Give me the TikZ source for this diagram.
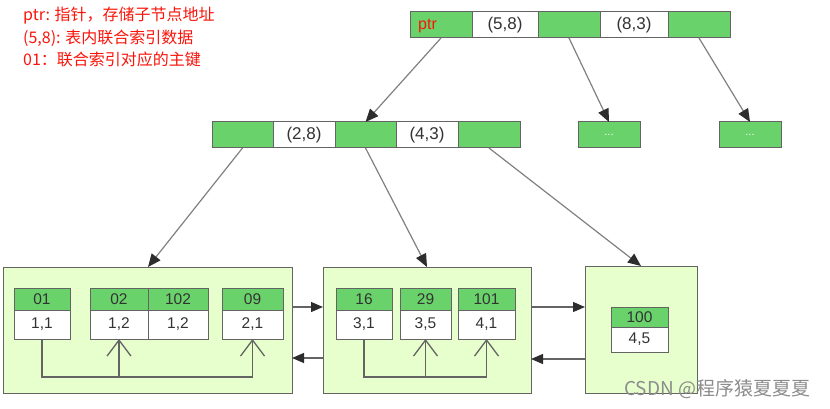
\documentclass[tikz,border=0pt]{standalone}
\usepackage{fontspec}
\setmainfont{Liberation Sans}
\newfontfamily\cjk{Noto Sans CJK SC}
\usetikzlibrary{arrows.meta,calc}
\definecolor{gfill}{RGB}{106,210,106}
\definecolor{lfill}{RGB}{230,255,204}
\definecolor{bord}{RGB}{100,100,100}
\definecolor{aline}{RGB}{128,128,128}
\definecolor{ahead}{RGB}{45,45,45}
\definecolor{txt}{RGB}{51,51,51}
\definecolor{legred}{RGB}{250,20,10}
\tikzset{
  cellbase/.style={draw=bord, line width=1pt, inner sep=0pt, outer sep=0pt, anchor=north west, text=txt, font=\fontsize{15.5}{17}\selectfont},
  gcell/.style={cellbase, fill=gfill},
  wcell/.style={cellbase, fill=white},
  topcell/.style={font=\fontsize{17}{19}\selectfont},
  leafbox/.style={draw=bord, line width=1pt, fill=lfill, inner sep=0pt, outer sep=0pt, anchor=north west},
  treearrow/.style={draw=aline, line width=1.2pt, -{Triangle[length=13pt,width=11pt,fill=ahead,color=ahead]}},
  linkarrow/.style={draw=bord, line width=1.2pt, -{Triangle[length=12pt,width=10pt,fill=ahead,color=ahead]}},
  inline/.style={draw=bord, line width=1.3pt},
  barb/.style={draw=bord, line width=1.3pt, -{Straight Barb[length=16pt,width=24pt,line width=1.3pt]}},
  legend/.style={text=legred, anchor=west, inner sep=0pt, font=\cjk\fontsize{16}{18}\selectfont},
}
\begin{document}
\begin{tikzpicture}[x=1pt,y=-1pt]
\useasboundingbox (0,0) rectangle (830,409);

% legend
\node[legend] (leg1) at (23,16) {ptr: 指针，存储子节点地址};
\node[legend] (leg2) at (23,38) {(5,8): 表内联合索引数据};
\node[legend] (leg3) at (23,59) {01：联合索引对应的主键};

% top node
\node[gcell, minimum width=62, minimum height=26] (t1) at (410,12) {};
\node[wcell, topcell, minimum width=66, minimum height=26] (t2) at (472,12) {(5,8)};
\node[gcell, minimum width=62, minimum height=26] (t3) at (538,12) {};
\node[wcell, topcell, minimum width=68, minimum height=26] (t4) at (600,12) {(8,3)};
\node[gcell, minimum width=62, minimum height=26] (t5) at (668,12) {};
\node[text=legred, anchor=west, inner sep=0pt, font=\fontsize{16}{18}\selectfont] (ptr) at (418,25.5) {ptr};

% second level
\node[gcell, minimum width=61, minimum height=26] (m1) at (212,122) {};
\node[wcell, topcell, minimum width=62, minimum height=26] (m2) at (273,122) {(2,8)};
\node[gcell, minimum width=61, minimum height=26] (m3) at (335,122) {};
\node[wcell, topcell, minimum width=62, minimum height=26] (m4) at (396,122) {(4,3)};
\node[gcell, minimum width=62, minimum height=26] (m5) at (458,122) {};

\node[gcell, minimum width=62, minimum height=26, text=white, font=\fontsize{11}{12}\selectfont] (d1) at (578,122) {...};
\node[gcell, minimum width=62, minimum height=26, text=white, font=\fontsize{11}{12}\selectfont] (d2) at (719,122) {...};

% leaves
\node[leafbox, minimum width=289, minimum height=126] (leaf1) at (3,267) {};
\node[leafbox, minimum width=208, minimum height=126] (leaf2) at (323,267) {};
\node[leafbox, minimum width=112, minimum height=127] (leaf3) at (585,266) {};

% leaf1 cells
\node[gcell, minimum width=56, minimum height=22] (h01) at (14,288) {01};
\node[wcell, minimum width=56, minimum height=29] (c01) at (14,310) {1,1};
\node[gcell, minimum width=58, minimum height=22] (h02) at (90,288) {02};
\node[wcell, minimum width=58, minimum height=29] (c02) at (90,310) {1,2};
\node[gcell, minimum width=60, minimum height=22] (h102) at (148,288) {102};
\node[wcell, minimum width=60, minimum height=29] (c102) at (148,310) {1,2};
\node[gcell, minimum width=61, minimum height=22] (h09) at (222,288) {09};
\node[wcell, minimum width=61, minimum height=29] (c09) at (222,310) {2,1};

% leaf2 cells
\node[gcell, minimum width=56, minimum height=22] (h16) at (336,288) {16};
\node[wcell, minimum width=56, minimum height=29] (c16) at (336,310) {3,1};
\node[gcell, minimum width=51, minimum height=22] (h29) at (400,288) {29};
\node[wcell, minimum width=51, minimum height=29] (c29) at (400,310) {3,5};
\node[gcell, minimum width=57, minimum height=22] (h101) at (458,288) {101};
\node[wcell, minimum width=57, minimum height=29] (c101) at (458,310) {4,1};

% leaf3 cell
\node[gcell, minimum width=57, minimum height=20] (h100) at (611,307) {100};
\node[wcell, minimum width=57, minimum height=25] (c100) at (611,327) {4,5};

% tree arrows
\draw[treearrow] (t1.south) -- (m3.north);
\draw[treearrow] (t3.south) -- (d1.north);
\draw[treearrow] (t5.south) -- (d2.north);
\draw[treearrow] (m1.south) -- ([xshift=145pt]leaf1.north west);
\draw[treearrow] (m3.south) -- (leaf2.north);
\draw[treearrow] (m5.south) -- (leaf3.north);

% leaf links
\draw[linkarrow] ([yshift=23pt]leaf1.east) -- ([yshift=23pt]leaf2.west);
\draw[linkarrow] ([yshift=-28pt]leaf2.west) -- ([yshift=-28pt]leaf1.east);
\draw[linkarrow] ([yshift=23pt]leaf2.east) -- ([yshift=23pt]leaf3.west |- leaf2.east);
\draw[linkarrow] ([yshift=-29pt]leaf3.west |- leaf2.east) -- ([yshift=-29pt]leaf2.east);

% inner links
\coordinate (base) at (0,377);
\draw[inline] (c01.south) -- (c01.south |- base) -- (c09.south |- base);
\draw[barb] (c02.south |- base) -- (c02.south);
\draw[barb] (c09.south |- base) -- (c09.south);
\draw[inline] (c16.south) -- (c16.south |- base) -- (c101.south |- base);
\draw[barb] (c29.south |- base) -- (c29.south);
\draw[barb] (c101.south |- base) -- (c101.south);

% watermark
\node[anchor=west, inner sep=0pt, text=black!45, font=\cjk\fontsize{19}{21}\selectfont] (wm) at (624,389) {CSDN @程序猿夏夏夏};
\end{tikzpicture}
\end{document}
